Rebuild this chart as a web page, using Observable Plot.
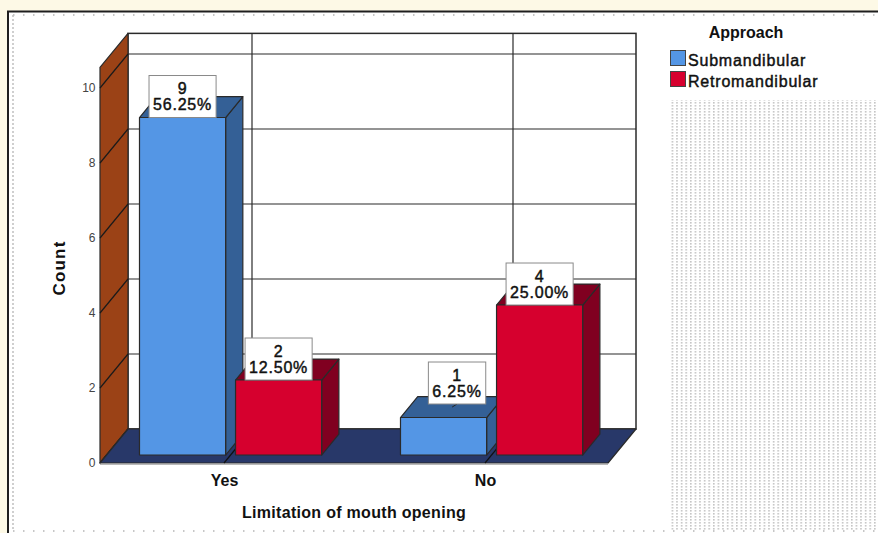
<!DOCTYPE html>
<html>
<head>
<meta charset="utf-8">
<script src="https://cdn.jsdelivr.net/npm/d3@7"></script>
<script src="https://cdn.jsdelivr.net/npm/@observablehq/plot@0.6"></script>
<style>
  html, body { margin: 0; padding: 0; background: #fdf9e6; }
  #chart svg { display: block; }
</style>
</head>
<body>
<div id="chart"></div>
<script>
// Counts of patients by limitation of mouth opening and surgical approach
const categories = ["Yes", "No"];
const series = ["Submandibular", "Retromandibular"];
const submandibularCounts = [9, 1];
const retromandibularCounts = [2, 4];
const yTicks = [0, 2, 4, 6, 8, 10];
const seriesColors = ["#5496e5", "#d6002e"];
const seriesShades = ["#346096", "#800020"];

const countsBySeries = [submandibularCounts, retromandibularCounts];
const total = d3.sum(countsBySeries.flat());
const rows = categories.flatMap((category, i) =>
  series.map((s, j) => ({ category, series: s, j, count: countsBySeries[j][i] }))
);

// Layout of the pseudo-3D box
const FONT = "'Liberation Sans', Arial, sans-serif";
const FX0 = 100, FX1 = 608;          // front edge of the floor
const Y0 = 463, UNIT = 37.5, Y_MAX = 10.55;
const DEPTH = { dx: 28, dy: -34 };   // offset from front to back wall
const BAR_FRONT = 0.235, BAR_BACK = 0.85;
const LINE = "#2a2a2a";

function poly(g, pts, fill, stroke = LINE, sw = 1.2) {
  return g.append("polygon")
    .attr("points", pts.map(p => p.join(",")).join(" "))
    .attr("fill", fill).attr("stroke", stroke).attr("stroke-width", sw)
    .attr("stroke-linejoin", "round");
}

// Page frame, panel borders and the stippled legend area
function decor() {
  const g = d3.create("svg:g");
  const defs = g.append("defs");
  const pat = defs.append("pattern").attr("id", "stipple")
    .attr("patternUnits", "userSpaceOnUse").attr("width", 4.6).attr("height", 3);
  pat.append("rect").attr("width", 1.6).attr("height", 1.6).attr("fill", "#c4c4c4");
  g.append("rect").attr("width", 878).attr("height", 533).attr("fill", "#fdf9e6");
  g.append("rect").attr("x", 8).attr("y", 11.5).attr("width", 870).attr("height", 522).attr("fill", "#fff");
  g.append("line").attr("x1", 7).attr("x2", 878).attr("y1", 11.5).attr("y2", 11.5)
    .attr("stroke", "#1e1e1e").attr("stroke-width", 2);
  g.append("line").attr("x1", 8).attr("x2", 8).attr("y1", 11).attr("y2", 533)
    .attr("stroke", "#1e1e1e").attr("stroke-width", 2);
  g.append("line").attr("x1", 13).attr("x2", 878).attr("y1", 15).attr("y2", 15)
    .attr("stroke", "#b5b5b5").attr("stroke-width", 1.5).attr("stroke-dasharray", "1.5 8.5");
  g.append("line").attr("x1", 13).attr("x2", 878).attr("y1", 531).attr("y2", 531)
    .attr("stroke", "#b5b5b5").attr("stroke-width", 1.5).attr("stroke-dasharray", "1.5 8.5");
  g.append("line").attr("x1", 13).attr("x2", 13).attr("y1", 15).attr("y2", 531)
    .attr("stroke", "#c0c0c0").attr("stroke-width", 1.5).attr("stroke-dasharray", "2 2");
  g.append("rect").attr("x", 670).attr("y", 100).attr("width", 208).attr("height", 430)
    .attr("fill", "url(#stipple)");
  return g.node();
}

// Back wall, side wall and floor with their gridlines
function walls(index, { x, y }) {
  const g = d3.create("svg:g");
  const { dx, dy } = DEPTH;
  const y0 = y(0), yT = y(Y_MAX);
  g.append("rect").attr("x", FX0 + dx).attr("y", yT + dy)
    .attr("width", FX1 - FX0).attr("height", y0 - yT)
    .attr("fill", "#fff").attr("stroke", LINE).attr("stroke-width", 1.5);
  for (const t of yTicks) {
    g.append("line").attr("x1", FX0 + dx).attr("x2", FX1 + dx)
      .attr("y1", y(t) + dy).attr("y2", y(t) + dy)
      .attr("stroke", LINE).attr("stroke-width", 1.2);
  }
  for (const c of categories) {
    g.append("line").attr("x1", x(c) + dx).attr("x2", x(c) + dx)
      .attr("y1", yT + dy).attr("y2", y0 + dy)
      .attr("stroke", LINE).attr("stroke-width", 1.2);
  }
  poly(g, [[FX0, y0], [FX0, yT], [FX0 + dx, yT + dy], [FX0 + dx, y0 + dy]], "#9b4216");
  for (const t of yTicks) {
    g.append("line").attr("x1", FX0).attr("x2", FX0 + dx)
      .attr("y1", y(t)).attr("y2", y(t) + dy)
      .attr("stroke", "#1a1a1a").attr("stroke-width", 1.2);
  }
  poly(g, [[FX0, y0], [FX1, y0], [FX1 + dx, y0 + dy], [FX0 + dx, y0 + dy]], "#283869");
  g.append("line").attr("x1", FX0).attr("x2", FX1).attr("y1", y0 + 1.2).attr("y2", y0 + 1.2)
    .attr("stroke", "#9a9a9a").attr("stroke-width", 1);
  for (const c of categories) {
    g.append("line").attr("x1", x(c)).attr("x2", x(c) + dx)
      .attr("y1", y0).attr("y2", y0 + dy)
      .attr("stroke", "#111").attr("stroke-width", 1.2);
  }
  return g.node();
}

function barGeometry(r, x, y) {
  const step = x(categories[1]) - x(categories[0]);
  const bw = step * 0.33, gap = step * 0.038;
  const ox = DEPTH.dx * BAR_FRONT, oy = DEPTH.dy * BAR_FRONT;
  const cx = x(r.category);
  const x0 = (r.j === 0 ? cx - gap / 2 - bw : cx + gap / 2) + ox;
  return {
    x0, x1: x0 + bw,
    yb: y(0) + oy, yt: y(r.count) + oy,
    sx: DEPTH.dx * (BAR_BACK - BAR_FRONT), sy: DEPTH.dy * (BAR_BACK - BAR_FRONT)
  };
}

// 3D bars: front face, right side face and top face
function bars3d(index, { x, y }) {
  const g = d3.create("svg:g");
  for (const r of rows) {
    const { x0, x1, yb, yt, sx, sy } = barGeometry(r, x, y);
    const shade = seriesShades[r.j];
    poly(g, [[x1, yt], [x1 + sx, yt + sy], [x1 + sx, yb + sy], [x1, yb]], shade);
    poly(g, [[x0, yt], [x0 + sx, yt + sy], [x1 + sx, yt + sy], [x1, yt]], shade);
    poly(g, [[x0, yt], [x1, yt], [x1, yb], [x0, yb]], seriesColors[r.j]);
  }
  return g.node();
}

const measureCtx = document.createElement("canvas").getContext("2d");
function textWidth(s, size, spacing) {
  measureCtx.font = `${size}px ${FONT}`;
  return measureCtx.measureText(s).width + spacing * s.length;
}

// Value labels: count and percentage of all cases in a white box
function valueLabels(index, { x, y }) {
  const g = d3.create("svg:g");
  for (const r of rows) {
    const { x0, x1, yb, yt, sx, sy } = barGeometry(r, x, y);
    const pct = (r.count / total * 100).toFixed(2) + "%";
    const w = Math.max(textWidth(pct, 16, 0.8), textWidth(String(r.count), 16, 0.8)) + 8;
    const h = 42;
    const limit = yb - 51;
    const lift = Math.max(0, yt - limit);
    const cx = (x0 + x1) / 2 + lift;
    const bottom = yt - lift;
    if (lift > 0) {
      g.append("line")
        .attr("x1", (x0 + x1) / 2 + sx / 2).attr("y1", yt + sy / 2)
        .attr("x2", cx).attr("y2", bottom)
        .attr("stroke", "#222").attr("stroke-width", 1);
    }
    g.append("rect").attr("x", cx - w / 2).attr("y", bottom - h)
      .attr("width", w).attr("height", h)
      .attr("fill", "#fff").attr("stroke", "#8a8a8a").attr("stroke-width", 1);
    const t = g.append("text").attr("text-anchor", "middle")
      .attr("font-size", 16).attr("letter-spacing", 0.8).attr("fill", "#111")
      .attr("stroke", "#111").attr("stroke-width", 0.45);
    t.append("tspan").attr("x", cx).attr("y", bottom - h + 18.5).text(r.count);
    t.append("tspan").attr("x", cx).attr("y", bottom - 7.5).text(pct);
  }
  return g.node();
}

// Legend and axis titles
function annotations() {
  const g = d3.create("svg:g").attr("fill", "#111");
  g.append("text").attr("x", 746).attr("y", 38).attr("text-anchor", "middle")
    .attr("font-size", 16).attr("font-weight", "bold").text("Approach");
  series.forEach((s, j) => {
    const top = 50 + j * 21;
    g.append("rect").attr("x", 670.5).attr("y", top + 0.5).attr("width", 15).attr("height", 15)
      .attr("fill", seriesColors[j]).attr("stroke", "#444").attr("stroke-width", 1);
    g.append("text").attr("x", 688).attr("y", top + 15.5).attr("text-anchor", "start")
      .attr("font-size", 16).attr("letter-spacing", 0.8)
      .attr("stroke", "#111").attr("stroke-width", 0.45).text(s);
  });
  g.append("text").attr("x", 354).attr("y", 518).attr("text-anchor", "middle")
    .attr("font-size", 16).attr("font-weight", "bold").attr("letter-spacing", 0.3)
    .text("Limitation of mouth opening");
  g.append("text").attr("transform", "translate(65,268) rotate(-90)").attr("text-anchor", "middle")
    .attr("font-size", 17).attr("font-weight", "bold").attr("letter-spacing", 1.2)
    .text("Count");
  return g.node();
}

const chart = Plot.plot({
  width: 878,
  height: 533,
  margin: 0,
  style: { fontFamily: FONT, background: "transparent", overflow: "visible" },
  x: { type: "point", domain: categories, range: [FX0, FX1], padding: 0.47, axis: null },
  y: { domain: [0, Y_MAX], range: [Y0, Y0 - Y_MAX * UNIT], axis: null },
  marks: [
    decor,
    walls,
    bars3d,
    valueLabels,
    Plot.text(yTicks, {
      y: d => d, text: d => String(d), frameAnchor: "left", dx: 95,
      textAnchor: "end", fontSize: 12, fill: "#444"
    }),
    Plot.text(categories, {
      x: d => d, y: () => 0, text: d => d, dy: 17,
      fontSize: 16, fontWeight: "bold", fill: "#111"
    }),
    annotations
  ]
});

document.getElementById("chart").append(chart);
</script>
</body>
</html>
